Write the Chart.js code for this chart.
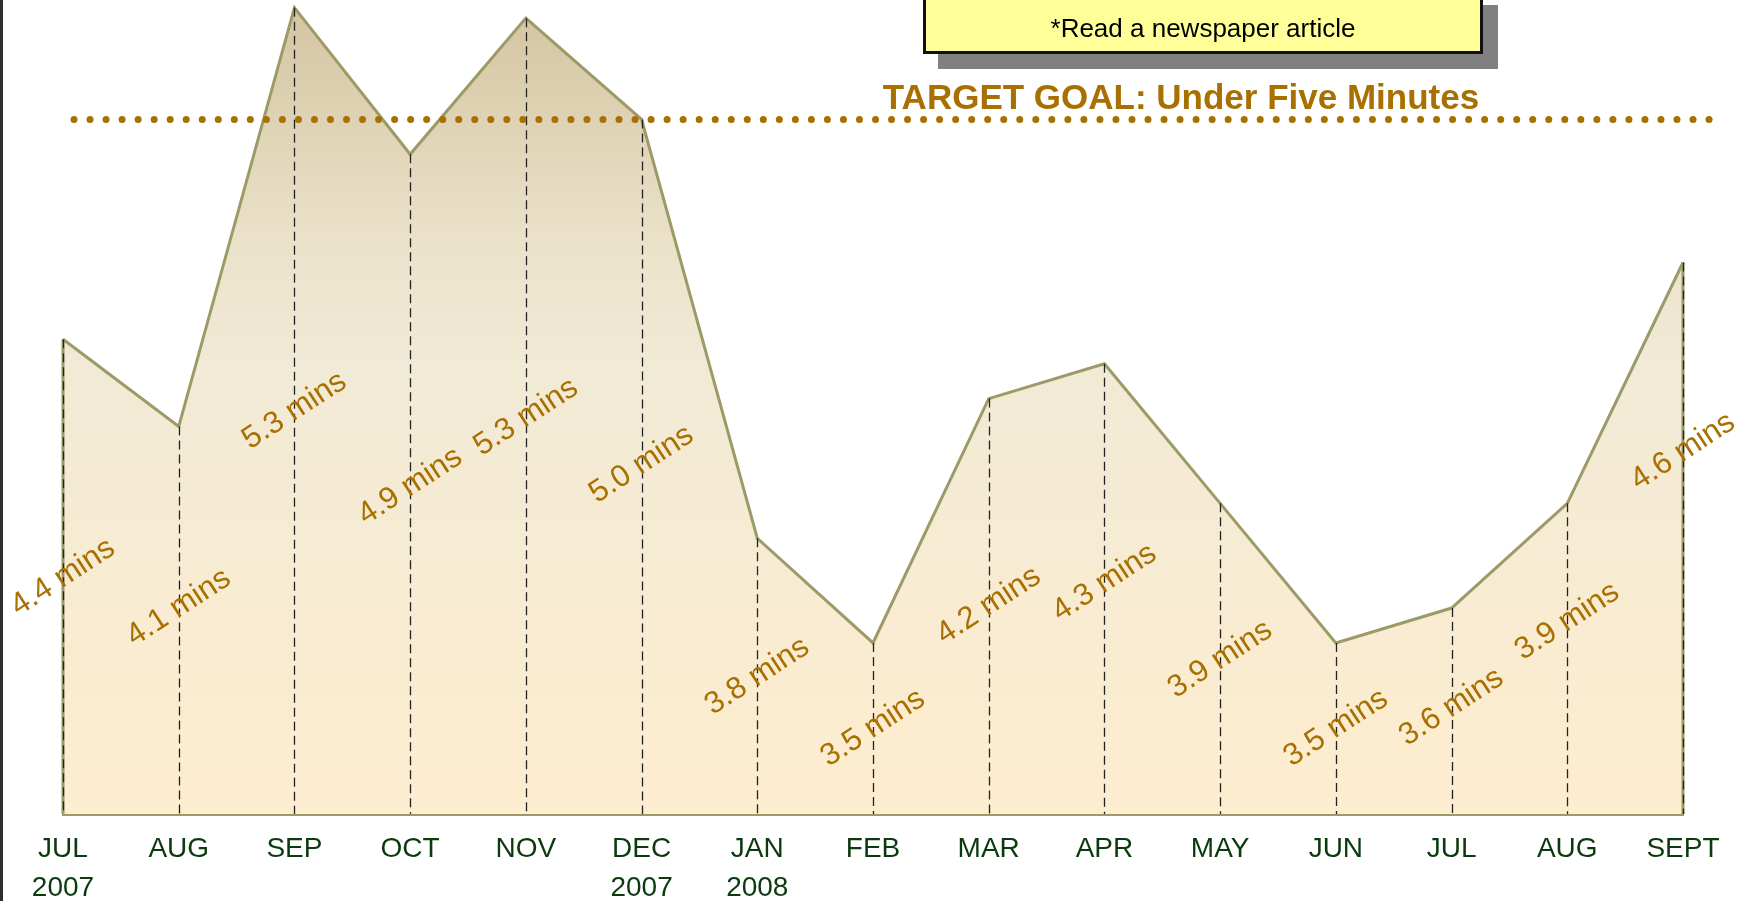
<!DOCTYPE html>
<html>
<head>
<meta charset="utf-8">
<script src="https://cdn.jsdelivr.net/npm/chart.js@4.4.1/dist/chart.umd.min.js"></script>
<style>
    html, body { margin: 0; padding: 0; background: #fff; overflow: hidden; }
    #wrap { position: relative; width: 1737px; height: 901px; }
    #edge { position: absolute; left: 0; top: 0; width: 3px; height: 901px; background: #2e2e2e; }
    #note {
        position: absolute; left: 923px; top: -10px; width: 560px; height: 64px;
        box-sizing: border-box; border: 3px solid #111; background: #ffff99;
        box-shadow: 15px 15px 0 #808080;
        font: 26px 'Liberation Sans', Arial, sans-serif; color: #000;
        text-align: center; line-height: 30px; padding-top: 20px;
    }
    #goal {
        position: absolute; left: 881px; top: 77px; width: 600px; text-align: center;
        font: bold 35px 'Liberation Sans', Arial, sans-serif; color: #a87000;
        line-height: 40px; white-space: nowrap;
    }
</style>
</head>
<body>
<div id="wrap">
    <canvas id="responseChart"></canvas>
    <div id="edge"></div>
    <div id="note">*Read a newspaper article</div>
    <div id="goal">TARGET GOAL: Under Five Minutes</div>
</div>
<script>
var months = [['JUL', '2007'], 'AUG', 'SEP', 'OCT', 'NOV', ['DEC', '2007'], ['JAN', '2008'],
    'FEB', 'MAR', 'APR', 'MAY', 'JUN', 'JUL', 'AUG', 'SEPT'];
var minutes = [4.37, 4.12, 5.32, 4.90, 5.29, 5.00, 3.80, 3.50, 4.20, 4.30, 3.90, 3.50, 3.60, 3.90, 4.59];
var labelMinutes = [4.4, 4.1, 5.3, 4.9, 5.3, 5.0, 3.8, 3.5, 4.2, 4.3, 3.9, 3.5, 3.6, 3.9, 4.6];
var targetMinutes = 5.0;

var OLIVE = '#9c9a66';
var GOLD = '#a87000';

// how far below each point its label sits (hand placed in the original)
var labelDrop = [238, 181, 403, 332, 399, 345, 138, 85, 207, 219, 156, 85, 99, 118, 189];

function fillGradient(context) {
    var chart = context.chart;
    var area = chart.chartArea;
    if (!area) return '#f3ead6';
    var g = chart.ctx.createLinearGradient(0, area.top, 0, area.bottom);
    g.addColorStop(0, '#d3c4a0');
    g.addColorStop(0.3, '#ebe2ca');
    g.addColorStop(0.45, '#f1ead6');
    g.addColorStop(1, '#feedcf');
    return g;
}

var overlayPlugin = {
    id: 'overlay',
    afterDatasetsDraw: function (chart) {
        var ctx = chart.ctx;
        var meta = chart.getDatasetMeta(0);
        var yScale = chart.scales.y;
        var base = chart.chartArea.bottom;
        var n = meta.data.length;

        ctx.save();
        // solid olive edges at both ends of the area
        ctx.strokeStyle = OLIVE;
        ctx.lineWidth = 3;
        [meta.data[0], meta.data[n - 1]].forEach(function (p) {
            ctx.beginPath();
            ctx.moveTo(p.x, p.y);
            ctx.lineTo(p.x, base);
            ctx.stroke();
        });

        // dashed drop lines
        ctx.strokeStyle = '#222';
        ctx.lineWidth = 1.3;
        ctx.setLineDash([9, 5]);
        meta.data.forEach(function (p) {
            ctx.beginPath();
            ctx.moveTo(Math.round(p.x) + 0.5, p.y);
            ctx.lineTo(Math.round(p.x) + 0.5, base);
            ctx.stroke();
        });

        // target dotted line
        var ty = yScale.getPixelForValue(targetMinutes);
        ctx.fillStyle = GOLD;
        for (var x = 74; x <= 1710; x += 16.03) {
            ctx.beginPath();
            ctx.arc(x, ty, 3.5, 0, Math.PI * 2);
            ctx.fill();
        }

        // value labels
        ctx.setLineDash([]);
        ctx.font = '31px "Liberation Sans", Arial, sans-serif';
        ctx.fillStyle = GOLD;
        ctx.textAlign = 'center';
        ctx.textBaseline = 'middle';
        meta.data.forEach(function (p, i) {
            ctx.save();
            ctx.translate(p.x, p.y + labelDrop[i]);
            ctx.rotate(-33 * Math.PI / 180);
            ctx.fillText(labelMinutes[i].toFixed(1) + ' mins', 0, 0);
            ctx.restore();
        });
        ctx.restore();
    }
};

var canvas = document.getElementById('responseChart');
canvas.width = 1737;
canvas.height = 901;

new Chart(canvas.getContext('2d'), {
    type: 'line',
    data: {
        labels: months,
        datasets: [{
            data: minutes,
            borderColor: OLIVE,
            borderWidth: 3,
            backgroundColor: fillGradient,
            fill: 'start',
            pointRadius: 0,
            tension: 0,
            clip: false
        }]
    },
    options: {
        responsive: false,
        animation: false,
        layout: { padding: { left: 63, right: 54, top: 0, bottom: 0 } },
        plugins: {
            legend: { display: false },
            tooltip: { enabled: false }
        },
        scales: {
            x: {
                offset: false,
                grid: { display: false, drawTicks: false },
                border: { display: true, color: OLIVE, width: 3 },
                ticks: {
                    color: '#0c3a0f',
                    font: { size: 28, family: '"Liberation Sans", Arial, sans-serif', lineHeight: 1.42 },
                    padding: 15,
                    maxRotation: 0,
                    autoSkip: false
                },
                afterFit: function (scale) { scale.height = 87; }
            },
            y: {
                display: false,
                min: 3.01,
                max: 5.342
            }
        }
    },
    plugins: [overlayPlugin]
});
</script>
</body>
</html>
